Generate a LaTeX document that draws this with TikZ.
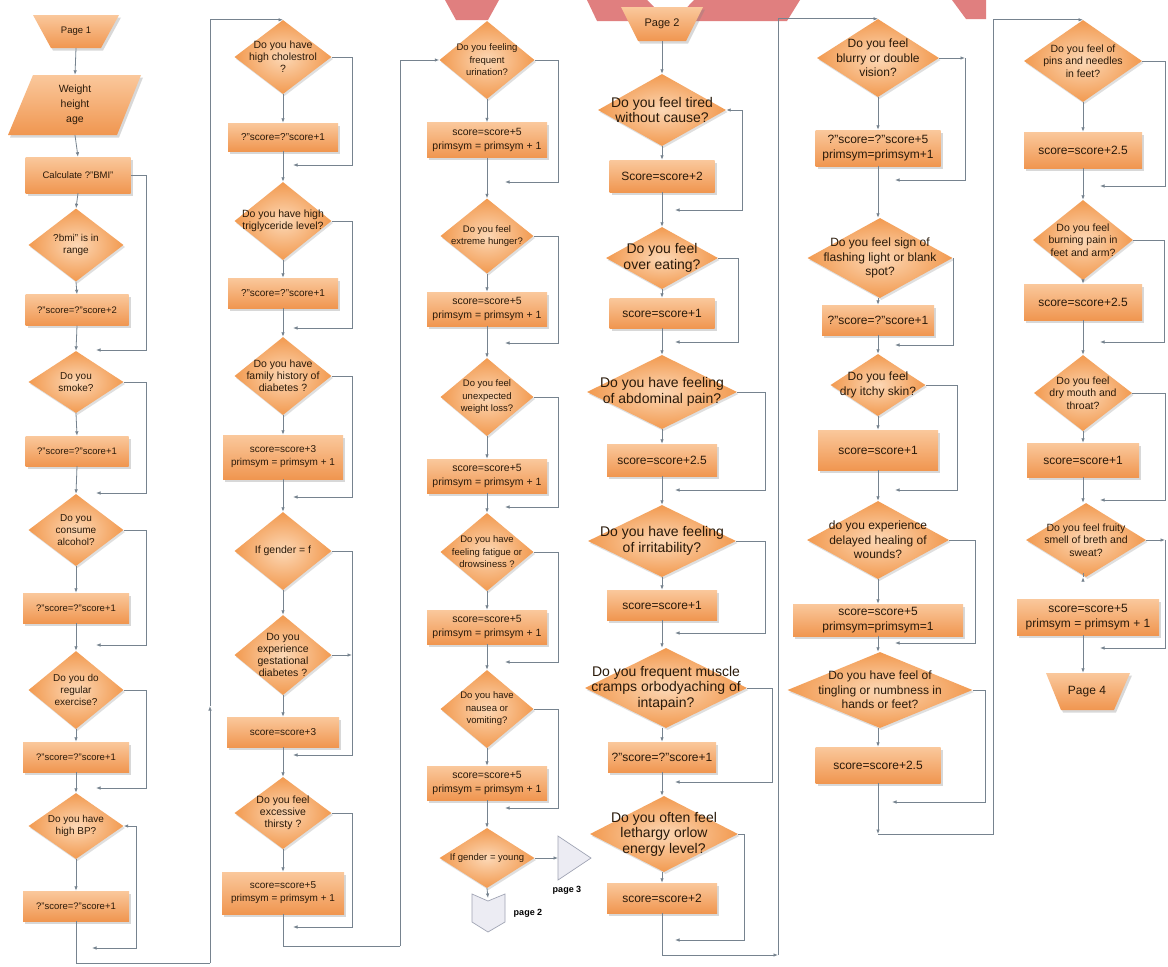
\documentclass[tikz,border=0pt]{standalone}
\usepackage{fontspec}
\setmainfont{Liberation Sans}
\usetikzlibrary{arrows.meta,shapes.geometric,shadows,calc}
\definecolor{lnC}{HTML}{76838F}
\definecolor{orIn}{HTML}{FCD8B6}
\definecolor{orOut}{HTML}{F29A50}
\definecolor{bxTop}{HTML}{FAC89C}
\definecolor{bxBot}{HTML}{F09650}
\definecolor{txC}{HTML}{2A1A0A}
\definecolor{pgFill}{HTML}{ECECF3}
\definecolor{pgLine}{HTML}{A0A4B4}
\definecolor{wmC}{HTML}{E07F7F}
\newcommand\DI[6]{\node[dia,minimum width=#3pt,minimum height=#4pt] (#1) at (#2) {};\node[txt,#5] (#1t) at (#1) {#6};}
\newcommand\BX[6]{\node[bx,minimum width=#3pt,minimum height=#4pt,#5] (#1) at (#2) {#6};}
\tikzset{
  ln/.style={draw=lnC, line width=0.8pt},
  arr/.style={ln, -{Latex[length=4.5pt,width=3.5pt]}},
  arrb/.style={ln, {Latex[length=4.5pt,width=3.5pt]}-{Latex[length=4.5pt,width=3.5pt]}},
  dia/.style={diamond, inner sep=0pt, inner color=orIn, outer color=orOut,
     drop shadow={shadow xshift=1.5pt,shadow yshift=-2pt,opacity=0.25}},
  bx/.style={rectangle, inner sep=0pt, top color=bxTop, bottom color=bxBot, align=center, text=txC,
     drop shadow={shadow xshift=2pt,shadow yshift=-2.5pt,opacity=0.3}},
  shp/.style={top color=bxTop, bottom color=bxBot, drop shadow={shadow xshift=2pt,shadow yshift=-2.5pt,opacity=0.3}},
  txt/.style={align=center, text=txC, inner sep=0pt},
  lbl/.style={inner sep=0pt, text=black, font=\bfseries\fontsize{9}{10}\selectfont},
  pgs/.style={fill=pgFill, draw=pgLine, line width=0.7pt},
  wm/.style={fill=wmC, draw=none},
  fa/.style={font=\fontsize{10}{12}\selectfont},
  fb/.style={font=\fontsize{9.5}{11}\selectfont},
  fc/.style={font=\fontsize{10.5}{12}\selectfont},
  fd/.style={font=\fontsize{10}{13}\selectfont},
  fe/.style={font=\fontsize{9.5}{12.5}\selectfont},
  ff/.style={font=\fontsize{10.5}{14.5}\selectfont},
  fg/.style={font=\fontsize{14}{15.5}\selectfont},
  fh/.style={font=\fontsize{12}{14}\selectfont},
  fi/.style={font=\fontsize{12}{14.5}\selectfont},
  fj/.style={font=\fontsize{10.5}{12.5}\selectfont},
}
\begin{document}
\begin{tikzpicture}[x=1pt,y=-1pt]
\useasboundingbox (0,0) rectangle (1168,967);
\fill[white] (0,0) rectangle (1168,967);

% ---------------- watermark fragments at the top ----------------
\path[wm] (445,0) -- (499,0) -- (488,20) -- (456,20) -- cycle;
\path[wm] (587,0) -- (647,0) -- (668,21) -- (597,21) -- cycle;
\path[wm] (694,0) -- (800,0) -- (787,21) -- (674,21) -- cycle;
\path[wm] (952,0) -- (986,0) -- (986,19) -- (966,19) -- cycle;

% ---------------- Column 1 ----------------
\path[shp] (33,15) -- (119,15) -- (101,48) -- (51,48) -- cycle;
\node[txt,fb,minimum height=33pt] (P1) at (76,31.5) {Page 1};
\path[shp] (33,75) -- (141,75) -- (117,135) -- (8,135) -- cycle;
\node[txt,font=\fontsize{10.5}{15}\selectfont,minimum height=60pt] (W) at (75,105) {Weight\\height\\age};
\BX{Calc}{78,175}{105}{36}{fb}{Calculate ?"BMI"}
\DI{Dbmi}{76,245}{95}{73}{fa}{?bmi" is in\\range}
\BX{R1}{77,310}{103}{31}{fb}{?"score=?"score+2}
\DI{Dsmoke}{76,382}{95}{62}{fa}{Do you\\smoke?}
\BX{R2}{77,451}{103}{30}{fb}{?"score=?"score+1}
\DI{Dalc}{76,530}{95}{72}{fa}{Do you\\consume\\alcohol?}
\BX{R3}{76,608}{106}{30}{fb}{?"score=?"score+1}
\DI{Dex}{76,690}{95}{78}{fa}{Do you do\\regular\\exercise?}
\BX{R4}{76,757}{106}{30}{fb}{?"score=?"score+1}
\DI{Dbp}{76,826}{95}{66}{fa}{Do you have\\high BP?}
\BX{R5}{76,906}{106}{30}{fb}{?"score=?"score+1}
\coordinate (m1) at (96,350);
\coordinate (m2) at (96,493);
\coordinate (m3) at (96,645);
\coordinate (m4) at (96,788);
\coordinate (m5) at (92,948);
\coordinate (c1b) at (210,963);
\coordinate (c1m) at (210,706);

\draw[arr] (P1.south) -- (W.north);
\draw[arr] (W.south) -- (Calc.north);
\draw[arr] (Calc.south) -- (Dbmi.north);
\draw[arr] (Dbmi.south) -- (R1.north);
\draw[arr] (R1.south) -- (Dsmoke.north);
\draw[arr] (Calc.east) -- (146,175) |- (m1);
\draw[arr] (Dsmoke.south) -- (R2.north);
\draw[arr] (R2.south) -- (Dalc.north);
\draw[arr] (Dsmoke.east) -- (146,382) |- (m2);
\draw[arr] (Dalc.south) -- (R3.north);
\draw[arr] (R3.south) -- (Dex.north);
\draw[arr] (Dalc.east) -- (146,530) |- (m3);
\draw[arr] (Dex.south) -- (R4.north);
\draw[arr] (R4.south) -- (Dbp.north);
\draw[arr] (Dex.east) -- (146,690) |- (m4);
\draw[arr] (Dbp.south) -- (R5.north);
\draw[arrb] (Dbp.east) -- (136,826) |- (m5);
\draw[ln] (R5.south) |- (c1b);
\draw[arr] (c1b) -- (c1m);

% ---------------- Column 2 ----------------
\DI{Dchol}{283,57}{97}{74}{fc}{Do you have\\high cholestrol\\?}
\BX{R6}{283,137}{110}{28}{fd}{?"score=?"score+1}
\DI{Dtri}{283,221}{97}{78}{fc}{Do you have high\\triglyceride level?}
\BX{R7}{283,293}{110}{30}{fd}{?"score=?"score+1}
\DI{Dfam}{283,376}{97}{78}{fc}{Do you have\\family history of\\diabetes ?}
\BX{R8}{283,457}{120}{44}{fd}{score=score+3\\primsym = primsym + 1}
\DI{Dgen}{283,551}{97}{78}{fc}{If gender = f}
\DI{Dgest}{283,655}{97}{80}{fc}{Do you\\experience\\gestational\\diabetes ?}
\BX{R9}{283,732}{112}{30}{fd}{score=score+3}
\DI{Dthirst}{283,813}{97}{72}{fc}{Do you feel\\excessive\\thirsty ?}
\BX{R10}{283,893}{122}{42}{fd}{score=score+5\\primsym = primsym + 1}
\coordinate (m6) at (293,165);
\coordinate (m7) at (293,328);
\coordinate (m8) at (293,497);
\coordinate (m9) at (293,755);
\coordinate (m10) at (293,927);
\coordinate (c2b) at (400,946);

\draw[arr] (c1m) |- (Dchol.north);
\draw[arr] (Dchol.south) -- (R6.north);
\draw[arr] (R6.south) -- (Dtri.north);
\draw[arr] (Dchol.east) -- (352,57) |- (m6);
\draw[arr] (Dtri.south) -- (R7.north);
\draw[arr] (R7.south) -- (Dfam.north);
\draw[arr] (Dtri.east) -- (352,221) |- (m7);
\draw[arr] (Dfam.south) -- (R8.north);
\draw[arr] (R8.south) -- (Dgen.north);
\draw[arr] (Dfam.east) -- (352,376) |- (m8);
\draw[arr] (Dgen.south) -- (Dgest.north);
\draw[arr] (Dgest.south) -- (R9.north);
\draw[arr] (Dgen.east) -- (352,551) |- (m9);
\draw[arr] (Dgest.east) -- (352,655);
\draw[arr] (R9.south) -- (Dthirst.north);
\draw[arr] (Dthirst.south) -- (R10.north);
\draw[arr] (Dthirst.east) -- (352,813) |- (m10);
\draw[ln] (R10.south) |- (c2b);

% ---------------- Column 3 ----------------
\DI{Duri}{487,60}{95}{78}{fe}{Do you feeling\\frequent\\urination?}
\BX{R11}{487,140}{120}{35}{ff}{score=score+5\\primsym = primsym + 1}
\DI{Dhun}{487,236}{93}{75}{fe}{Do you feel\\extreme hunger?}
\BX{R12}{487,309}{120}{34}{ff}{score=score+5\\primsym = primsym + 1}
\DI{Dwt}{487,397}{93}{78}{fe}{Do you feel\\unexpected\\weight loss?}
\BX{R13}{487,476}{120}{34}{ff}{score=score+5\\primsym = primsym + 1}
\DI{Dfat}{487,552}{93}{78}{fe}{Do you have\\feeling fatigue or\\drowsiness ?}
\BX{R14}{487,627}{120}{34}{ff}{score=score+5\\primsym = primsym + 1}
\DI{Dnau}{487,709}{93}{78}{fe}{Do you have\\nausea or\\vomiting?}
\BX{R15}{487,783}{120}{34}{ff}{score=score+5\\primsym = primsym + 1}
\DI{Dgy}{487,858}{95}{60}{fe}{If gender = young}
\coordinate (m11) at (505,182);
\coordinate (m12) at (505,343);
\coordinate (m13) at (505,507);
\coordinate (m14) at (505,662);
\coordinate (m15) at (505,808);
\path[pgs] (558,836) -- (591,858) -- (558,880) -- cycle;
\coordinate (pg3) at (558,858);
\path[pgs] (472,894) -- (488,901) -- (505,894) -- (505,922) -- (488,932) -- (472,922) -- cycle;
\coordinate (pg2) at (488,898);
\node[lbl] (lp3) at (567,890) {page 3};
\node[lbl] (lp2) at (528,913) {page 2};

\draw[arr] (c2b) |- (Duri.west);
\draw[arr] (Duri.south) -- (R11.north);
\draw[arr] (R11.south) -- (Dhun.north);
\draw[arr] (Duri.east) -- (558,60) |- (m11);
\draw[arr] (Dhun.south) -- (R12.north);
\draw[arr] (R12.south) -- (Dwt.north);
\draw[arr] (Dhun.east) -- (558,236) |- (m12);
\draw[arr] (Dwt.south) -- (R13.north);
\draw[arr] (R13.south) -- (Dfat.north);
\draw[arr] (Dwt.east) -- (558,397) |- (m13);
\draw[arr] (Dfat.south) -- (R14.north);
\draw[arr] (R14.south) -- (Dnau.north);
\draw[arr] (Dfat.east) -- (558,552) |- (m14);
\draw[arr] (Dnau.south) -- (R15.north);
\draw[arr] (R15.south) -- (Dgy.north);
\draw[arr] (Dnau.east) -- (558,709) |- (m15);
\draw[arr] (Dgy.east) -- (pg3);
\draw[arr] (Dgy.south) -- (pg2);

% ---------------- Column 4 ----------------
\path[shp] (621,7) -- (703,7) -- (686,41) -- (638,41) -- cycle;
\node[txt,font=\fontsize{11}{12}\selectfont,minimum height=34pt] (P2) at (662,24) {Page 2};
\DI{Dtired}{662,110}{128}{72}{fg}{Do you feel tired\\without cause?}
\BX{R16}{662,176}{105}{32}{fh}{Score=score+2}
\DI{Dover}{662,258}{112}{62}{fg}{Do you feel\\over eating?}
\BX{R17}{662,313}{105}{30}{fh}{score=score+1}
\DI{Dabd}{662,392}{150}{74}{fg}{Do you have feeling\\of abdominal pain?}
\BX{R18}{662,460}{110}{32}{fh}{score=score+2.5}
\DI{Dirr}{662,541}{148}{72}{fg}{Do you have feeling\\of irritability?}
\BX{R19}{662,605}{110}{30}{fh}{score=score+1}
\DI{Dmus}{666,688}{162}{80}{fg}{Do you frequent muscle\\cramps orbodyaching of\\intapain?}
\BX{R20}{662,757}{108}{30}{fh}{?"score=?"score+1}
\DI{Dleth}{664,834}{148}{76}{fg}{Do you often feel\\lethargy orlow\\energy level?}
\BX{R21}{662,898}{110}{30}{fh}{score=score+2}
\coordinate (m16) at (675,210);
\coordinate (m17) at (675,342);
\coordinate (m18) at (675,490);
\coordinate (m19) at (675,633);
\coordinate (m20) at (675,782);
\coordinate (m21) at (675,940);
\coordinate (c4b) at (778,955);

\draw[arr] (P2.south) -- (Dtired.north);
\draw[arr] (Dtired.south) -- (R16.north);
\draw[arr] (R16.south) -- (Dover.north);
\draw[arrb] (Dtired.east) -- (742,110) |- (m16);
\draw[arr] (Dover.south) -- (R17.north);
\draw[arr] (R17.south) -- (Dabd.north);
\draw[arr] (Dover.east) -- (738,258) |- (m17);
\draw[arr] (Dabd.south) -- (R18.north);
\draw[arr] (R18.south) -- (Dirr.north);
\draw[arr] (Dabd.east) -- (765,392) |- (m18);
\draw[arr] (Dirr.south) -- (R19.north);
\draw[arr] (R19.south) -- (R19.south |- Dmus.north);
\draw[arr] (Dirr.east) -- (765,541) |- (m19);
\draw[arr] (Dmus.south -| R20.north) -- (R20.north);
\draw[arr] (R20.south) -- (R20.south |- Dleth.north);
\draw[arr] (Dmus.east) -- (772,688) |- (m20);
\draw[arr] (Dleth.south -| R21.north) -- (R21.north);
\draw[arr] (Dleth.east) -- (744,834) |- (m21);
\draw[arr] (R21.south) |- (c4b);

% ---------------- Column 5 ----------------
\DI{Dblur}{878,58}{122}{78}{fi}{Do you feel\\blurry or double\\vision?}
\BX{R22}{878,148}{125}{36}{fi}{?"score=?"score+5\\primsym=primsym+1}
\DI{Dflash}{880,258}{145}{80}{fi}{Do you feel sign of\\flashing light or blank\\spot?}
\BX{R23}{878,320}{112}{30}{fi}{?"score=?"score+1}
\DI{Ddry}{878,385}{95}{62}{fi}{Do you feel\\dry itchy skin?}
\BX{R24}{878,450}{120}{40}{fi}{score=score+1}
\DI{Dheal}{878,540}{142}{78}{fi}{do you experience\\delayed healing of\\wounds?}
\BX{R25}{878,620}{170}{32}{fi}{score=score+5\\primsym=primsym=1}
\DI{Dting}{880,690}{185}{76}{fi}{Do you have feel of\\tingling or numbness in\\hands or feet?}
\BX{R26}{878,765}{125}{36}{fi}{score=score+2.5}
\coordinate (bl1) at (965,58);
\coordinate (m22) at (895,180);
\coordinate (m23) at (895,345);
\coordinate (m24) at (895,490);
\coordinate (m25) at (895,643);
\coordinate (m26) at (892,802);
\coordinate (c5b) at (878,834);

\draw[arr] (c4b) |- (Dblur.north);
\draw[arr] (Dblur.south) -- (R22.north);
\draw[arr] (Dblur.east) -- (bl1);
\draw[arr] (bl1) |- (m22);
\draw[arr] (R22.south) -- (R22.south |- Dflash.north);
\draw[arr] (Dflash.south -| R23.north) -- (R23.north);
\draw[arr] (Dflash.east) -- (953,258) |- (m23);
\draw[arr] (R23.south) -- (Ddry.north);
\draw[arr] (Ddry.south) -- (R24.north);
\draw[arr] (Ddry.east) -- (957,385) |- (m24);
\draw[arr] (R24.south) -- (Dheal.north);
\draw[arr] (Dheal.south) -- (R25.north);
\draw[arr] (Dheal.east) -- (975,540) |- (m25);
\draw[arr] (R25.south) -- (R25.south |- Dting.north);
\draw[arr] (Dting.south -| R26.north) -- (R26.north);
\draw[arr] (Dting.east) -- (985,690) |- (m26);
\draw[arr] (R26.south) -- (c5b);

% ---------------- Column 6 ----------------
\DI{Dpins}{1083,61}{118}{82}{fj}{Do you feel of\\pins and needles\\in feet?}
\BX{R27}{1083,150}{118}{36}{fi}{score=score+2.5}
\DI{Dburn}{1083,240}{100}{80}{fj}{Do you feel\\burning pain in\\feet and arm?}
\BX{R28}{1083,302}{118}{36}{fi}{score=score+2.5}
\DI{Dmouth}{1083,393}{98}{76}{fj}{Do you feel\\dry mouth and\\throat?}
\BX{R29}{1083,460}{112}{34}{fi}{score=score+1}
\DI{Dfruit}{1086,540}{120}{74}{fj}{Do you feel fruity\\smell of breth and\\sweat?}
\BX{R30}{1088,617}{142}{36}{fi}{score=score+5\\primsym = primsym + 1}
\path[shp] (1046,673) -- (1130,673) -- (1114,710) -- (1061,710) -- cycle;
\node[txt,font=\fontsize{12}{13}\selectfont,minimum height=37pt] (P4) at (1087,691.5) {Page 4};
\coordinate (m27) at (1100,186);
\coordinate (m28) at (1100,342);
\coordinate (m29) at (1100,500);
\coordinate (fr1) at (1165,540);
\coordinate (m30) at (1100,648);

\draw[arr] (c5b) -- (993,834) |- (Dpins.north);
\draw[arr] (Dpins.south) -- (R27.north);
\draw[arr] (R27.south) -- (Dburn.north);
\draw[arr] (Dpins.east) -- (1165,61) |- (m27);
\draw[arr] (Dburn.south) -- (R28.north);
\draw[arr] (R28.south) -- (Dmouth.north);
\draw[arr] (Dburn.east) -- (1164,240) |- (m28);
\draw[arr] (Dmouth.south) -- (R29.north);
\draw[arr] (R29.south) -- (R29.south |- Dfruit.north);
\draw[arr] (Dmouth.east) -- (1165,393) |- (m29);
\draw[arr] (Dfruit.east) -- (fr1);
\draw[arr] (fr1) |- (m30);
\draw[arr] (Dfruit.south -| R29.south) -- (Dfruit.south -| R29.south |- R30.north);
\draw[arr] (R30.south -| R29.south) -- (P4.north -| R29.south);
\end{tikzpicture}
\end{document}
